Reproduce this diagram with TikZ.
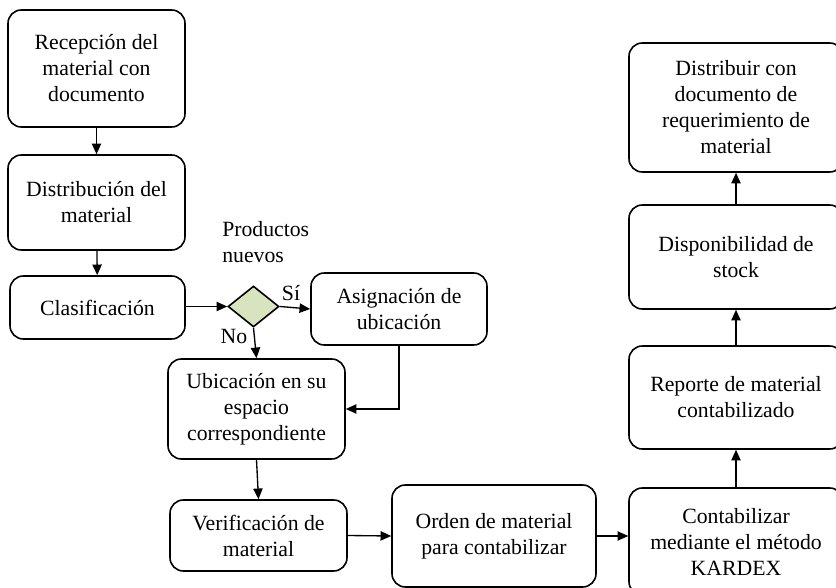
\documentclass[tikz,border=0pt]{standalone}
\usepackage{fontspec}
\setmainfont{Liberation Serif}
\usetikzlibrary{shapes.geometric,arrows.meta}
\definecolor{diafill}{HTML}{D7E4BD}
\begin{document}
\begin{tikzpicture}[x=0.75pt,y=-0.75pt,
  font=\fontsize{16.3}{19.5}\selectfont,
  wh/.style 2 args={minimum width=#1*0.75pt, minimum height=#2*0.75pt},
  bx/.style={draw=black, line width=1.2pt, rounded corners=10pt, align=center, inner sep=2pt},
  arr/.style={line width=1pt, -{Triangle[length=8pt,width=7pt]}},
  lbl/.style={inner sep=0pt}
]
\useasboundingbox (0,0) rectangle (836,588);
\clip (0,0) rectangle (836,588);

\node[bx, wh={177}{117}] (rec) at (96.5,68.5) {Recepción del\\material con\\documento};
\node[bx, wh={177}{95}]  (dis) at (96.5,202.5) {Distribución del\\material};
\node[bx, wh={175}{63}]  (cla) at (97.5,307.5) {Clasificación};
\node[diamond, draw=black, line width=1.2pt, fill=diafill, inner sep=0pt, wh={51}{41}] (dia) at (253.5,306.5) {};
\node[bx, wh={176}{72}]  (asi) at (399,309) {Asignación de\\ubicación};
\node[bx, wh={177}{100}] (ubi) at (256.5,409) {Ubicación en su\\espacio\\correspondiente};
\node[bx, wh={177}{71}]  (ver) at (258.5,535.5) {Verificación de\\material};
\node[bx, wh={204}{102}] (ord) at (494,536) {Orden de material\\para contabilizar};
\node[bx, wh={214}{107}] (con) at (736,541.5) {Contabilizar\\mediante el método\\KARDEX};
\node[bx, wh={214}{103}] (rep) at (736,397.5) {Reporte de material\\contabilizado};
\node[bx, wh={214}{104}] (dsp) at (736,257) {Disponibilidad de\\stock};
\node[bx, wh={214}{129}] (dst) at (736,107.5) {Distribuir con\\documento de\\requerimiento de\\material};

\node[lbl, align=left, anchor=west] (prod) at (222,242.5) {Productos\\nuevos};
\node[lbl] (si) at (291,293) {Sí};
\node[lbl] (no) at (234,336) {No};

\draw[arr] (rec) -- (dis);
\draw[arr] (dis) -- (cla);
\draw[arr] (cla.east |- dia.west) -- (dia.west);
\draw[arr] (dia.east) -- (asi.west);
\draw[arr] (dia.south) -- (ubi.north);
\draw[arr] (asi.south) |- (ubi.east);
\draw[arr] (ubi.south) -- (ver.north);
\draw[arr] (ver.east) -- (ord.west);
\draw[arr] (ord.east) -- (ord.east -| con.west);
\draw[arr] (con) -- (rep);
\draw[arr] (rep) -- (dsp);
\draw[arr] (dsp) -- (dst);
\end{tikzpicture}
\end{document}
